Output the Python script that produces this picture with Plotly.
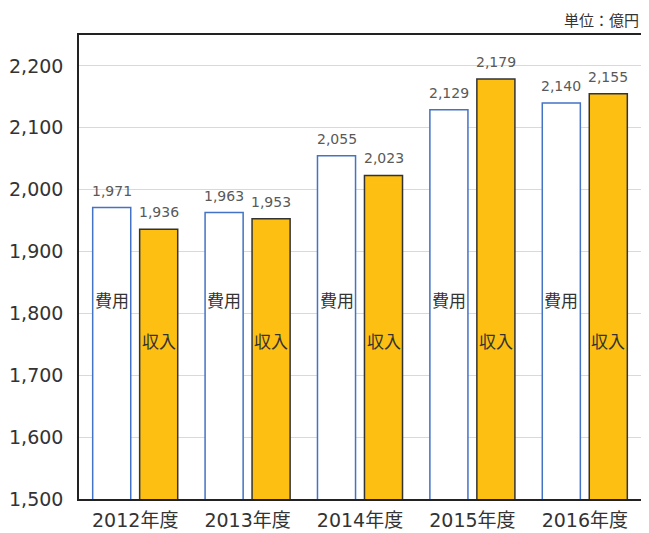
import plotly.graph_objects as go

categories = ["2012年度", "2013年度", "2014年度", "2015年度", "2016年度"]
cost = [1971, 1963, 2055, 2129, 2140]
income = [1936, 1953, 2023, 2179, 2155]
tick_vals = [1500, 1600, 1700, 1800, 1900, 2000, 2100, 2200]
tick_text = ["1,500", "1,600", "1,700", "1,800", "1,900", "2,000", "2,100", "2,200"]
cost_name = "費用"
income_name = "収入"
unit_label = "単位：億円"

FONT = "DejaVu Sans, Noto Sans CJK JP"
CJK = "Noto Sans CJK JP"

fig = go.Figure()
fig.add_trace(go.Bar(x=categories, y=cost, name=cost_name,
                     marker=dict(color="white", line=dict(color="#4472C4", width=1.5))))
fig.add_trace(go.Bar(x=categories, y=income, name=income_name,
                     marker=dict(color="#FCBF12", line=dict(color="#333333", width=1.5))))

ann = []
for c, v1, v2 in zip(categories, cost, income):
    ann.append(dict(x=c, y=v1, xref="x", yref="y", text=f"{v1:,}", showarrow=False,
                    xshift=-23.5, yshift=7, yanchor="bottom",
                    font=dict(family=FONT, size=14, color="#595959")))
    ann.append(dict(x=c, y=v2, xref="x", yref="y", text=f"{v2:,}", showarrow=False,
                    xshift=23.5, yshift=7, yanchor="bottom",
                    font=dict(family=FONT, size=14, color="#595959")))
    ann.append(dict(x=c, y=1822, xref="x", yref="y", text=cost_name, showarrow=False,
                    xshift=-23.5, font=dict(family=CJK, size=17, color="#333333")))
    ann.append(dict(x=c, y=1757, xref="x", yref="y", text=income_name, showarrow=False,
                    xshift=23.5, font=dict(family=CJK, size=17, color="#333333")))
ann.append(dict(x=1, y=1, xref="paper", yref="paper", text=unit_label, showarrow=False,
                xanchor="right", yanchor="middle", yshift=16, xshift=0,
                font=dict(family=CJK, size=15, color="#333333")))

fig.update_layout(
    width=641, height=525,
    margin=dict(l=71, r=8, t=27, b=34, autoexpand=False),
    paper_bgcolor="white", plot_bgcolor="white",
    barmode="group", bargap=0.164, bargroupgap=0.19,
    showlegend=False,
    annotations=ann,
    font=dict(family=FONT, color="#333333"),
)
fig.update_yaxes(range=[1500, 2250], tickvals=tick_vals, ticktext=tick_text,
                 showgrid=True, gridcolor="#D9D9D9", gridwidth=1,
                 showline=True, linecolor="#222222", linewidth=1.5, mirror=True,
                 ticks="", ticklabelstandoff=10, automargin=False,
                 tickfont=dict(family=FONT, size=19, color="#333333"), zeroline=False)
fig.update_xaxes(showline=True, linecolor="#222222", linewidth=1.5, mirror=True,
                 ticks="", ticklabelstandoff=3, automargin=False,
                 tickfont=dict(family=FONT, size=19, color="#333333"))

fig.write_html("out.html")
